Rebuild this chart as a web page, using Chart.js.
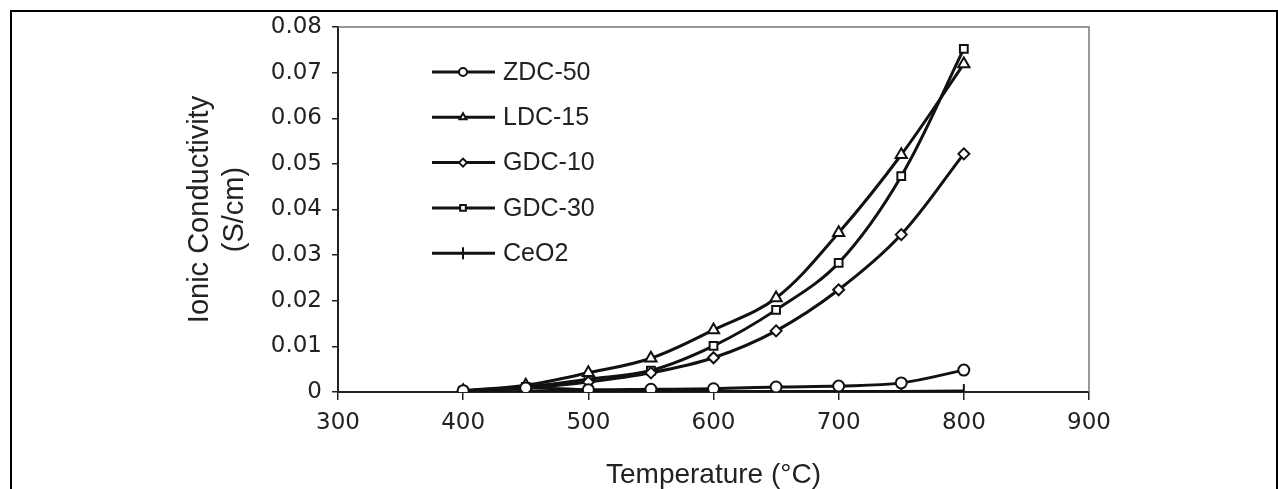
<!DOCTYPE html>
<html>
<head>
<meta charset="utf-8">
<script src="https://cdn.jsdelivr.net/npm/chart.js@4.4.1/dist/chart.umd.min.js"></script>
<style>
  html, body { margin: 0; padding: 0; background: #fff; overflow: hidden; }
  #wrap { position: relative; width: 1278px; height: 489px; }
  #grafico { position: absolute; left: 0; top: 0; }
  /* moldura preta em volta da figura */
  #moldura { position: absolute; left: 10px; top: 10px; width: 1268px; height: 520px;
             border: 2px solid #000; border-bottom: none; box-sizing: border-box; pointer-events: none; }
</style>
</head>
<body>
<div id="wrap">
  <canvas id="grafico" width="1278" height="489"></canvas>
  <div id="moldura"></div>
</div>
<script>
// dados
const temperaturas = [400, 450, 500, 550, 600, 650, 700, 750, 800]
const zdc50 = [0.0003, 0.0009, 0.0005, 0.0006, 0.0007, 0.0011, 0.0013, 0.0020, 0.0048]
const ldc15 = [0.0003, 0.0015, 0.0042, 0.0074, 0.0136, 0.0206, 0.0349, 0.0520, 0.0719]
const gdc10 = [0.0002, 0.0009, 0.0022, 0.0042, 0.0075, 0.0134, 0.0224, 0.0345, 0.0522]
const gdc30 = [0.0002, 0.0011, 0.0028, 0.0047, 0.0101, 0.0180, 0.0283, 0.0473, 0.0752]
const ceo2 = [0.0000, 0.0001, 0.0001, 0.0001, 0.0001, 0.0001, 0.0001, 0.0001, 0.0002]

const nomesSeries = ['ZDC-50', 'LDC-15', 'GDC-10', 'GDC-30', 'CeO2']
const xTickLabels = ['300', '400', '500', '600', '700', '800', '900']
const yTickLabels = ['0', '0.01', '0.02', '0.03', '0.04', '0.05', '0.06', '0.07', '0.08']

const corLinha = '#111'
const fonteTexto = '"Liberation Sans", Arial, sans-serif'

function pontos(valores) {
  return temperaturas.map((t, i) => ({ x: t, y: valores[i] }))
}

function serie(nome, valores, estilo, rotacao) {
  return {
    label: nome,
    data: pontos(valores),
    borderColor: corLinha,
    borderWidth: 3,
    pointStyle: estilo,
    pointRotation: rotacao || 0,
    pointRadius: estilo === 'line' ? 7 : (estilo === 'triangle' ? 6.5 : 5.5),
    pointBackgroundColor: '#fff',
    pointBorderColor: corLinha,
    pointBorderWidth: 2,
    tension: 0.35,
    fill: false
  }
}

// moldura cinza do lado de cima e da direita da area do grafico
const molduraArea = {
  id: 'molduraArea',
  beforeDatasetsDraw(chart) {
    const { ctx, chartArea: a } = chart
    ctx.save()
    ctx.strokeStyle = '#777'
    ctx.lineWidth = 1.5
    ctx.beginPath()
    ctx.moveTo(a.left, a.top)
    ctx.lineTo(a.right, a.top)
    ctx.lineTo(a.right, a.bottom)
    ctx.stroke()
    ctx.restore()
  }
}

// legenda dentro da area do grafico: linha + marcador + nome
const legendaInterna = {
  id: 'legendaInterna',
  afterDatasetsDraw(chart) {
    const { ctx, chartArea: a } = chart
    chart.data.datasets.forEach((ds, i) => {
      const x = a.left + 94
      const y = a.top + 45 + i * 45.3
      ctx.save()
      ctx.strokeStyle = corLinha
      ctx.lineWidth = 3
      ctx.beginPath()
      ctx.moveTo(x, y)
      ctx.lineTo(x + 63, y)
      ctx.stroke()
      ctx.fillStyle = '#fff'
      ctx.lineWidth = 2
      Chart.helpers.drawPoint(ctx, {
        pointStyle: ds.pointStyle,
        radius: ds.pointStyle === 'line' ? 6 : 4,
        rotation: ds.pointRotation,
        borderWidth: 2
      }, x + 31, y)
      ctx.fillStyle = '#222'
      ctx.font = '25px ' + fonteTexto
      ctx.textBaseline = 'middle'
      ctx.textAlign = 'left'
      ctx.fillText(ds.label, x + 71, y + 1)
      ctx.restore()
    })
  }
}

var ctx = document.getElementById('grafico').getContext('2d')
var grafico = new Chart(ctx, {
  type: 'line',
  data: {
    datasets: [
      serie(nomesSeries[0], zdc50, 'circle'),
      serie(nomesSeries[1], ldc15, 'triangle'),
      serie(nomesSeries[2], gdc10, 'rectRot'),
      serie(nomesSeries[3], gdc30, 'rect'),
      serie(nomesSeries[4], ceo2, 'line', 90)
    ]
  },
  options: {
    responsive: false,
    animation: false,
    devicePixelRatio: 1,
    layout: { padding: { left: 183, top: 27, right: 189, bottom: 0 } },
    plugins: {
      legend: { display: false },
      tooltip: { enabled: false }
    },
    scales: {
      x: {
        type: 'linear',
        min: 300,
        max: 900,
        afterFit: (scale) => { scale.height = 97 },
        border: { display: true, color: '#222', width: 2 },
        grid: { drawOnChartArea: false, drawTicks: true, tickLength: 8, color: '#222', lineWidth: 1.5 },
        ticks: {
          stepSize: 100,
          padding: 9,
          color: '#222',
          font: { family: '"DejaVu Sans"', size: 23 },
          callback: (v, i) => xTickLabels[i]
        },
        title: {
          display: true,
          text: 'Temperature (°C)',
          color: '#222',
          font: { family: fonteTexto, size: 28, lineHeight: 1.0 },
          padding: { top: 0, bottom: 0 }
        }
      },
      y: {
        min: 0,
        max: 0.08,
        afterFit: (scale) => { scale.width = 155 },
        border: { display: true, color: '#222', width: 2 },
        grid: { drawOnChartArea: false, drawTicks: true, tickLength: 6, color: '#222', lineWidth: 1.5 },
        ticks: {
          stepSize: 0.01,
          padding: 10,
          color: '#222',
          font: { family: '"DejaVu Sans"', size: 23 },
          callback: (v, i) => yTickLabels[i]
        },
        title: {
          display: true,
          text: ['Ionic Conductivity', '(S/cm)'],
          color: '#222',
          font: { family: fonteTexto, size: 29, lineHeight: 1.2 },
          padding: { top: 0, bottom: 19 }
        }
      }
    }
  },
  plugins: [molduraArea, legendaInterna]
})
</script>
</body>
</html>
